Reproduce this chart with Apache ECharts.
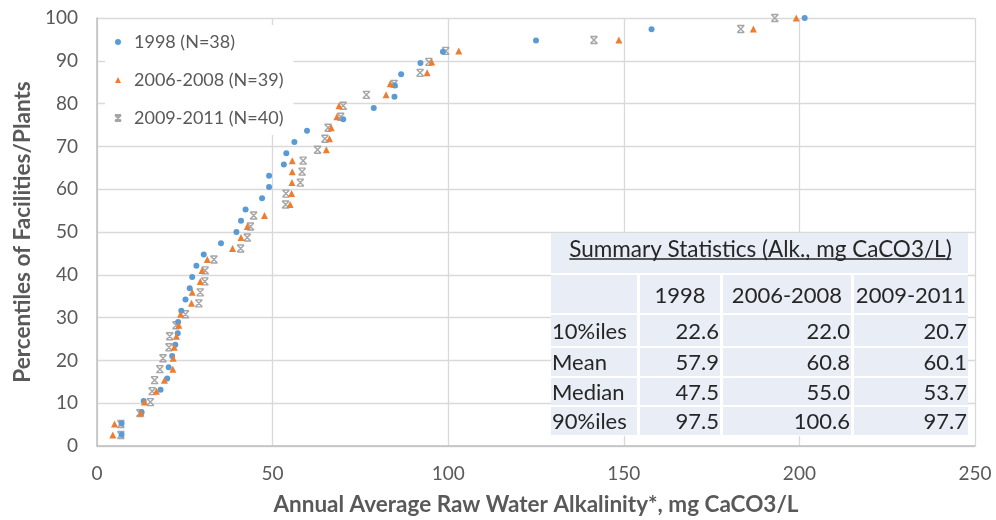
<!DOCTYPE html>
<html>
<head>
<meta charset="utf-8">
<script src="https://cdn.jsdelivr.net/npm/echarts@6/dist/echarts.min.js"></script>
<style>
  html, body { margin: 0; padding: 0; background: #ffffff; }
  #chart { width: 996px; height: 520px; }
</style>
</head>
<body>
<div id="chart"></div>
<script>
// Series labels
const seriesNames = ['1998 (N=38)', '2006-2008 (N=39)', '2009-2011 (N=40)'];

// 1998: sorted annual average alkalinity (mg CaCO3/L) and plotting percentile
const alk1998 = [7.0, 7.0, 12.7, 13.3, 18.1, 20.0, 20.4, 21.4, 22.3, 23.0,
  23.1, 24.0, 25.2, 26.4, 27.1, 28.3, 30.4, 35.3, 39.7, 41.0,
  42.3, 47.0, 49.0, 49.0, 53.2, 53.9, 56.2, 59.8, 70.1, 78.8,
  84.7, 84.8, 86.6, 92.1, 98.5, 125.0, 157.9, 201.5];
const pct1998 = [2.63, 5.26, 7.89, 10.53, 13.16, 15.79, 18.42, 21.05, 23.68, 26.32,
  28.95, 31.58, 34.21, 36.84, 39.47, 42.11, 44.74, 47.37, 50.00, 52.63,
  55.26, 57.89, 60.53, 63.16, 65.79, 68.42, 71.05, 73.68, 76.32, 78.95,
  81.58, 84.21, 86.84, 89.47, 92.11, 94.74, 97.37, 100.00];

// 2006-2008
const alk2006 = [4.5, 5.0, 12.5, 13.5, 16.9, 19.2, 21.6, 21.7, 22.0, 22.6,
  23.3, 23.8, 26.9, 27.1, 29.4, 29.9, 31.4, 38.6, 41.0, 42.8,
  47.7, 55.0, 55.4, 55.5, 55.6, 55.6, 65.3, 66.2, 66.7, 68.3,
  68.9, 82.3, 83.5, 94.0, 95.3, 103.0, 148.6, 186.9, 199.1];
const pct2006 = [2.56, 5.13, 7.69, 10.26, 12.82, 15.38, 17.95, 20.51, 23.08, 25.64,
  28.21, 30.77, 33.33, 35.90, 38.46, 41.03, 43.59, 46.15, 48.72, 51.28,
  53.85, 56.41, 58.97, 61.54, 64.10, 66.67, 69.23, 71.79, 74.36, 76.92,
  79.49, 82.05, 84.62, 87.18, 89.74, 92.31, 94.87, 97.44, 100.00];

// 2009-2011
const alk2009 = [6.8, 6.8, 12.2, 15.2, 15.7, 16.4, 17.9, 18.8, 20.5, 20.7,
  22.5, 25.2, 29.0, 29.4, 30.7, 30.8, 33.3, 40.9, 42.8, 43.7,
  44.6, 53.7, 53.8, 57.9, 58.4, 58.7, 62.8, 64.9, 65.8, 69.4,
  70.1, 76.7, 84.6, 92.0, 94.5, 99.3, 141.5, 183.3, 193.0];
const pct2009 = [2.56, 5.13, 7.69, 10.26, 12.82, 15.38, 17.95, 20.51, 23.08, 25.64,
  28.21, 30.77, 33.33, 35.90, 38.46, 41.03, 43.59, 46.15, 48.72, 51.28,
  53.85, 56.41, 58.97, 61.54, 64.10, 66.67, 69.23, 71.79, 74.36, 76.92,
  79.49, 82.05, 84.62, 87.18, 89.74, 92.31, 94.87, 97.44, 100.00];

// Summary statistics table
const statTitle = 'Summary Statistics (Alk., mg CaCO3/L)';
const statColumns = ['1998', '2006-2008', '2009-2011'];
const statRows = ['10%iles', 'Mean', 'Median', '90%iles'];
const stat1998 = ['22.6', '57.9', '47.5', '97.5'];
const stat2006 = ['22.0', '60.8', '55.0', '100.6'];
const stat2009 = ['20.7', '60.1', '53.7', '97.7'];

const FONT = 'Lato, "Open Sans", sans-serif';
const AXIS_GRAY = '#595959';

function pairs(xs, ys) { return xs.map((x, i) => [x, ys[i]]); }

// ---- table layout (pixels) ----
const tableBox = { x0: 551, x1: 968, y0: 233, y1: 436 };
const colSpans = [[551, 637], [640, 720], [723, 851], [854, 968]];
const titleSpan = [233, 273];
const headerSpan = [275, 313];
const rowSpans = [[315, 346], [348, 376], [378, 405], [407, 435]];
const CELL_FILL = '#e9edf5';
const TABLE_FONT = '22px ' + FONT;
const TITLE_FONT = '22.5px ' + FONT;

function textWidth(str, font) {
  const ctx = document.createElement('canvas').getContext('2d');
  ctx.font = font;
  return ctx.measureText(str).width;
}

function buildTable() {
  const els = [];
  els.push({ type: 'rect', z: 20, shape: { x: tableBox.x0, y: tableBox.y0, width: tableBox.x1 - tableBox.x0, height: tableBox.y1 - tableBox.y0 }, style: { fill: '#ffffff' } });
  // title cell
  els.push({ type: 'rect', z: 21, shape: { x: tableBox.x0, y: titleSpan[0], width: tableBox.x1 - tableBox.x0, height: titleSpan[1] - titleSpan[0] }, style: { fill: CELL_FILL } });
  const cx = (tableBox.x0 + tableBox.x1) / 2 + 1;
  els.push({ type: 'text', z: 22, x: cx, y: 250, style: { text: statTitle, font: TITLE_FONT, fill: '#262626', textAlign: 'center', textVerticalAlign: 'middle' } });
  const tw = textWidth(statTitle, TITLE_FONT);
  els.push({ type: 'line', z: 22, shape: { x1: cx - tw / 2, y1: 259, x2: cx + tw / 2, y2: 259 }, style: { stroke: '#262626', lineWidth: 1.3 } });

  const allRows = [headerSpan].concat(rowSpans);
  allRows.forEach(span => {
    colSpans.forEach(c => {
      els.push({ type: 'rect', z: 21, shape: { x: c[0], y: span[0], width: c[1] - c[0], height: span[1] - span[0] }, style: { fill: CELL_FILL } });
    });
  });
  // header
  statColumns.forEach((name, j) => {
    const c = colSpans[j + 1];
    els.push({ type: 'text', z: 22, x: (c[0] + c[1]) / 2, y: (headerSpan[0] + headerSpan[1]) / 2 + 2, style: { text: name, font: TABLE_FONT, fill: '#262626', textAlign: 'center', textVerticalAlign: 'middle' } });
  });
  const cols = [stat1998, stat2006, stat2009];
  statRows.forEach((label, i) => {
    const span = rowSpans[i];
    const cy = (span[0] + span[1]) / 2 + 1;
    els.push({ type: 'text', z: 22, x: colSpans[0][0] + 1, y: cy, style: { text: label, font: TABLE_FONT, fill: '#262626', textAlign: 'left', textVerticalAlign: 'middle' } });
    cols.forEach((vals, j) => {
      const c = colSpans[j + 1];
      els.push({ type: 'text', z: 22, x: c[1] - 1, y: cy, style: { text: vals[i], font: TABLE_FONT, fill: '#262626', textAlign: 'right', textVerticalAlign: 'middle' } });
    });
  });
  return els;
}

const chart = echarts.init(document.getElementById('chart'), null, { renderer: 'canvas' });

const axisLabelStyle = { fontFamily: FONT, fontSize: 19, color: AXIS_GRAY };
const axisNameStyle = { fontFamily: FONT, fontSize: 22.5, fontWeight: 'bold', color: AXIS_GRAY };

chart.setOption({
  animation: false,
  backgroundColor: '#ffffff',
  grid: { left: 97, right: 21, top: 18, bottom: 74, containLabel: false, outerBoundsMode: 'none' },
  legend: {
    orient: 'vertical',
    left: 105,
    top: 25,
    padding: [7, 10, 7, 9],
    itemGap: 18,
    itemWidth: 6,
    itemHeight: 6,
    backgroundColor: '#ffffff',
    textStyle: { fontFamily: FONT, fontSize: 18, color: AXIS_GRAY, lineHeight: 20, padding: [0, 0, 0, 8] },
    data: seriesNames
  },
  xAxis: {
    type: 'value', min: 0, max: 250, interval: 50,
    name: 'Annual Average Raw Water Alkalinity*, mg CaCO3/L',
    nameLocation: 'middle', nameGap: 47, nameTextStyle: axisNameStyle,
    axisLine: { show: true, lineStyle: { color: '#bfbfbf', width: 1.5 } },
    axisTick: { show: false },
    axisLabel: Object.assign({ margin: 18 }, axisLabelStyle),
    splitLine: { show: true, lineStyle: { color: '#d9d9d9', width: 1.3 } }
  },
  yAxis: {
    type: 'value', min: 0, max: 100, interval: 10,
    name: 'Percentiles of Facilities/Plants',
    nameLocation: 'middle', nameGap: 63, nameRotate: 90, nameTextStyle: axisNameStyle,
    axisLine: { show: true, lineStyle: { color: '#bfbfbf', width: 1.5 } },
    axisTick: { show: false },
    axisLabel: Object.assign({ margin: 19 }, axisLabelStyle),
    splitLine: { show: true, lineStyle: { color: '#d9d9d9', width: 1.3 } }
  },
  series: [
    {
      name: seriesNames[0], type: 'scatter', z: 3,
      symbol: 'circle', symbolSize: 6, symbolKeepAspect: true,
      itemStyle: { color: '#5b9bd5', opacity: 1 },
      data: pairs(alk1998, pct1998)
    },
    {
      name: seriesNames[1], type: 'scatter', z: 3,
      symbol: 'triangle', symbolSize: 7, symbolKeepAspect: true,
      itemStyle: { color: '#ed7d31', opacity: 1 },
      data: pairs(alk2006, pct2006)
    },
    {
      name: seriesNames[2], type: 'scatter', z: 2,
      symbol: 'path://M0,0L10,0M0,10L10,10M0,0L10,10M10,0L0,10', symbolSize: 7, symbolKeepAspect: true,
      itemStyle: { color: 'rgba(0,0,0,0)', borderColor: '#a5a5a5', borderWidth: 1.4, opacity: 1 },
      data: pairs(alk2009, pct2009)
    }
  ],
  graphic: { elements: buildTable() }
});
</script>
</body>
</html>
